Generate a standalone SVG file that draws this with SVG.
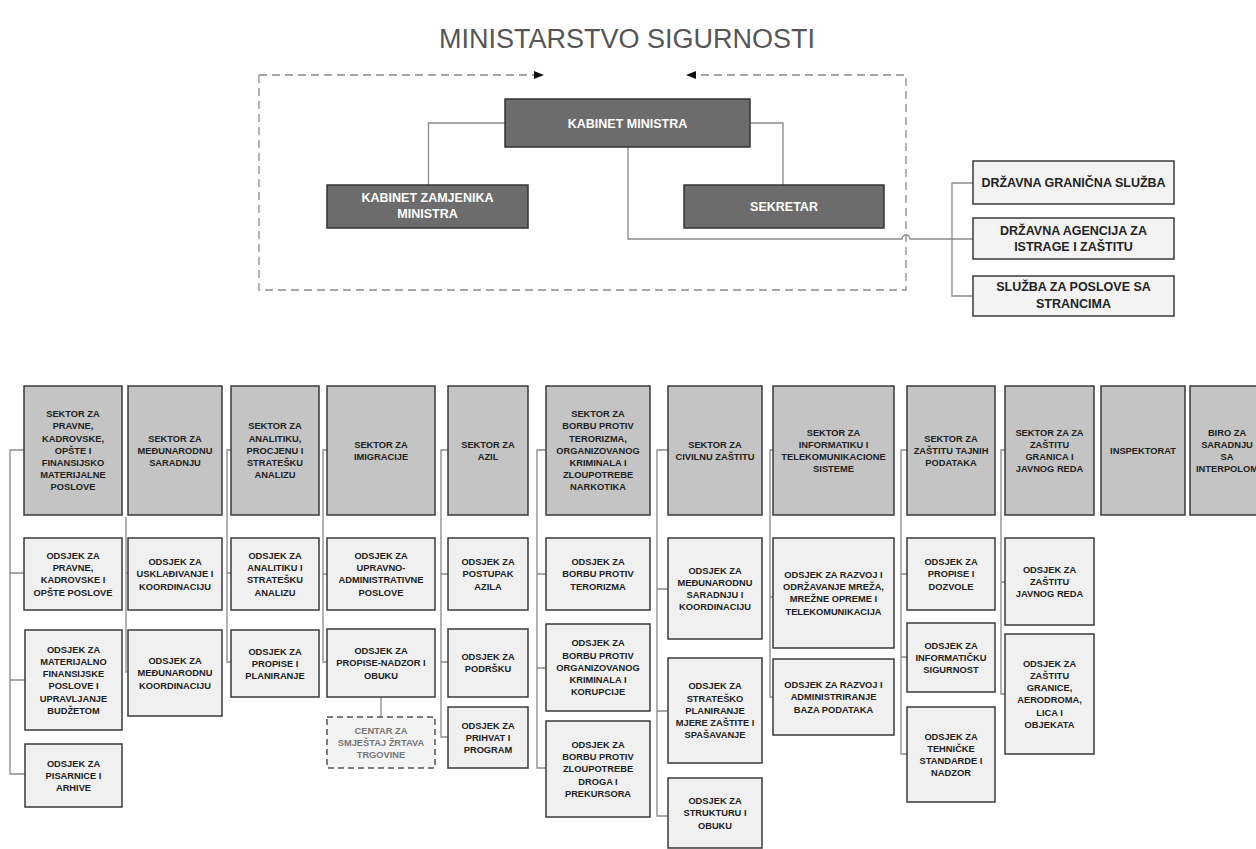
<svg xmlns="http://www.w3.org/2000/svg" width="1256" height="849" viewBox="0 0 1256 849">
<style>
.sec{fill:#c4c4c4;stroke:#3a3a3a;stroke-width:1.5}
.ods{fill:#f0f0f0;stroke:#3a3a3a;stroke-width:1.5}
.dsh{fill:#f3f3f3;stroke:#555;stroke-width:1.5;stroke-dasharray:6 4}
.dk{fill:#6c6c6c;stroke:#333;stroke-width:1.5}
.rb{fill:#f3f3f3;stroke:#3a3a3a;stroke-width:1.5}
.t{font-family:"Liberation Sans",Arial,sans-serif;font-weight:bold;font-size:9.3px;fill:#222;text-anchor:middle}
.tg{font-family:"Liberation Sans",Arial,sans-serif;font-weight:bold;font-size:9.3px;fill:#777;text-anchor:middle}
.tw{font-family:"Liberation Sans",Arial,sans-serif;font-weight:bold;font-size:12.5px;fill:#fff;text-anchor:middle}
.tr{font-family:"Liberation Sans",Arial,sans-serif;font-weight:bold;font-size:12.5px;fill:#222;text-anchor:middle}
.ln{fill:none;stroke:#8a8a8a;stroke-width:1.3}
.dl{fill:none;stroke:#8a8a8a;stroke-width:1.3;stroke-dasharray:8 5}
</style>
<defs>
<marker id="ah" viewBox="0 0 10 8" refX="10" refY="4" markerWidth="10" markerHeight="8" markerUnits="userSpaceOnUse" orient="auto">
<path d="M0,0 L10,4 L0,8 Z" fill="#111"/>
</marker>
</defs>
<rect width="1256" height="849" fill="#fff"/>
<text x="627" y="48" style="font-family:'Liberation Sans',Arial,sans-serif;font-size:27px;fill:#555;text-anchor:middle">MINISTARSTVO SIGURNOSTI</text>

<g id="connectors">
<path class="dl" d="M259,75 H544" marker-end="url(#ah)"/>
<path class="dl" d="M259,75 V290 H906 V75 H686" marker-end="url(#ah)"/>
<path class="ln" d="M505,123 H428.5 V185"/>
<path class="ln" d="M750,123 H783 V185"/>
<path class="ln" d="M628,147 V239 H902 A4,4 0 0 1 910,239 H952"/>
<path class="ln" d="M973,183 H952 V296 H973 M952,239 H973"/>
<!-- col1 -->
<path class="ln" d="M24,450 H10 V774 H25 M10,573 H24 M10,680 H25"/>
<!-- col2 -->
<path class="ln" d="M126,517 V672 H128 M126,573 H128"/>
<!-- col3 -->
<path class="ln" d="M231,450 H227 V662 H231 M227,573 H231"/>
<!-- col4 -->
<path class="ln" d="M327,450 H323 V662 H327 M323,574 H327 M381,697 V717"/>
<!-- col5 -->
<path class="ln" d="M448,450 H441 V737 H448 M441,574 H448 M441,662 H448"/>
<!-- col6 -->
<path class="ln" d="M546,450 H537 V768 H546 M537,574 H546 M537,668 H546"/>
<!-- col7 -->
<path class="ln" d="M668,450 H657 V816 H668 M657,589 H668 M657,711 H668"/>
<!-- col8 -->
<path class="ln" d="M773,450 H770 V697 H773 M770,597 H773"/>
<!-- col9 -->
<path class="ln" d="M907,450 H901 V754 H907 M901,574 H907 M901,657 H907"/>
<!-- col10 -->
<path class="ln" d="M1005,450 H1001 V694 H1005 M1001,582 H1005"/>
</g>

<g id="kabinet-ministra"><rect class="dk" x="505" y="99" width="245" height="48"/><text class="tw" x="627.5" y="127.5">KABINET MINISTRA</text></g>
<g id="kabinet-zamjenika"><rect class="dk" x="327" y="185" width="201" height="43"/><text class="tw" x="427.5" y="201.5"><tspan x="427.5">KABINET ZAMJENIKA</tspan><tspan x="427.5" dy="16.5">MINISTRA</tspan></text></g>
<g id="sekretar"><rect class="dk" x="684" y="185" width="200" height="43"/><text class="tw" x="784" y="211">SEKRETAR</text></g>

<g id="granicna"><rect class="rb" x="973" y="161" width="201" height="43"/><text class="tr" x="1073.5" y="186.8">DRŽAVNA GRANIČNA SLUŽBA</text></g>
<g id="sipa"><rect class="rb" x="973" y="218" width="201" height="41"/><text class="tr" x="1073.5" y="234.5"><tspan x="1073.5">DRŽAVNA AGENCIJA ZA</tspan><tspan x="1073.5" dy="16.5">ISTRAGE I ZAŠTITU</tspan></text></g>
<g id="stranci"><rect class="rb" x="973" y="276" width="201" height="40"/><text class="tr" x="1073.5" y="291"><tspan x="1073.5">SLUŽBA ZA POSLOVE SA</tspan><tspan x="1073.5" dy="16.5">STRANCIMA</tspan></text></g>

<!-- column 1 -->
<g id="s1"><rect class="sec" x="24" y="386" width="98" height="129"/><text class="t" y="417.2"><tspan x="73">SEKTOR ZA</tspan><tspan x="73" dy="12.2">PRAVNE,</tspan><tspan x="73" dy="12.2">KADROVSKE,</tspan><tspan x="73" dy="12.2">OPŠTE I</tspan><tspan x="73" dy="12.2">FINANSIJSKO</tspan><tspan x="73" dy="12.2">MATERIJALNE</tspan><tspan x="73" dy="12.2">POSLOVE</tspan></text></g>
<g id="s1o1"><rect class="ods" x="24" y="538" width="98" height="72"/><text class="t" y="559"><tspan x="73">ODSJEK ZA</tspan><tspan x="73" dy="12.2">PRAVNE,</tspan><tspan x="73" dy="12.2">KADROVSKE I</tspan><tspan x="73" dy="12.2">OPŠTE POSLOVE</tspan></text></g>
<g id="s1o2"><rect class="ods" x="25" y="630" width="97" height="100"/><text class="t" y="652.8"><tspan x="73.5">ODSJEK ZA</tspan><tspan x="73.5" dy="12.2">MATERIJALNO</tspan><tspan x="73.5" dy="12.2">FINANSIJSKE</tspan><tspan x="73.5" dy="12.2">POSLOVE I</tspan><tspan x="73.5" dy="12.2">UPRAVLJANJE</tspan><tspan x="73.5" dy="12.2">BUDŽETOM</tspan></text></g>
<g id="s1o3"><rect class="ods" x="25" y="744" width="97" height="63"/><text class="t" y="766.6"><tspan x="73.5">ODSJEK ZA</tspan><tspan x="73.5" dy="12.2">PISARNICE I</tspan><tspan x="73.5" dy="12.2">ARHIVE</tspan></text></g>

<!-- column 2 -->
<g id="s2"><rect class="sec" x="128" y="386" width="94" height="129"/><text class="t" y="441.6"><tspan x="175">SEKTOR ZA</tspan><tspan x="175" dy="12.2">MEĐUNARODNU</tspan><tspan x="175" dy="12.2">SARADNJU</tspan></text></g>
<g id="s2o1"><rect class="ods" x="128" y="538" width="94" height="72"/><text class="t" y="565.1"><tspan x="175">ODSJEK ZA</tspan><tspan x="175" dy="12.2">USKLAĐIVANJE I</tspan><tspan x="175" dy="12.2">KOORDINACIJU</tspan></text></g>
<g id="s2o2"><rect class="ods" x="128" y="630" width="94" height="86"/><text class="t" y="664.1"><tspan x="175">ODSJEK ZA</tspan><tspan x="175" dy="12.2">MEĐUNARODNU</tspan><tspan x="175" dy="12.2">KOORDINACIJU</tspan></text></g>

<!-- column 3 -->
<g id="s3"><rect class="sec" x="231" y="386" width="88" height="129"/><text class="t" y="429.4"><tspan x="275">SEKTOR ZA</tspan><tspan x="275" dy="12.2">ANALITIKU,</tspan><tspan x="275" dy="12.2">PROCJENU I</tspan><tspan x="275" dy="12.2">STRATEŠKU</tspan><tspan x="275" dy="12.2">ANALIZU</tspan></text></g>
<g id="s3o1"><rect class="ods" x="231" y="538" width="88" height="72"/><text class="t" y="559"><tspan x="275">ODSJEK ZA</tspan><tspan x="275" dy="12.2">ANALITIKU I</tspan><tspan x="275" dy="12.2">STRATEŠKU</tspan><tspan x="275" dy="12.2">ANALIZU</tspan></text></g>
<g id="s3o2"><rect class="ods" x="231" y="630" width="88" height="67"/><text class="t" y="654.6"><tspan x="275">ODSJEK ZA</tspan><tspan x="275" dy="12.2">PROPISE I</tspan><tspan x="275" dy="12.2">PLANIRANJE</tspan></text></g>

<!-- column 4 -->
<g id="s4"><rect class="sec" x="327" y="386" width="108" height="129"/><text class="t" y="447.7"><tspan x="381">SEKTOR ZA</tspan><tspan x="381" dy="12.2">IMIGRACIJE</tspan></text></g>
<g id="s4o1"><rect class="ods" x="327" y="538" width="108" height="72"/><text class="t" y="559"><tspan x="381">ODSJEK ZA</tspan><tspan x="381" dy="12.2">UPRAVNO-</tspan><tspan x="381" dy="12.2">ADMINISTRATIVNE</tspan><tspan x="381" dy="12.2">POSLOVE</tspan></text></g>
<g id="s4o2"><rect class="ods" x="327" y="629" width="108" height="68"/><text class="t" y="654.1"><tspan x="381">ODSJEK ZA</tspan><tspan x="381" dy="12.2">PROPISE-NADZOR I</tspan><tspan x="381" dy="12.2">OBUKU</tspan></text></g>
<g id="s4c"><rect class="dsh" x="327" y="717" width="108" height="51"/><text class="tg" y="733.6"><tspan x="381">CENTAR ZA</tspan><tspan x="381" dy="12.2">SMJEŠTAJ ŽRTAVA</tspan><tspan x="381" dy="12.2">TRGOVINE</tspan></text></g>

<!-- column 5 -->
<g id="s5"><rect class="sec" x="448" y="386" width="80" height="129"/><text class="t" y="447.7"><tspan x="488">SEKTOR ZA</tspan><tspan x="488" dy="12.2">AZIL</tspan></text></g>
<g id="s5o1"><rect class="ods" x="448" y="538" width="80" height="72"/><text class="t" y="565.1"><tspan x="488">ODSJEK ZA</tspan><tspan x="488" dy="12.2">POSTUPAK</tspan><tspan x="488" dy="12.2">AZILA</tspan></text></g>
<g id="s5o2"><rect class="ods" x="448" y="629" width="80" height="68"/><text class="t" y="660.2"><tspan x="488">ODSJEK ZA</tspan><tspan x="488" dy="12.2">PODRŠKU</tspan></text></g>
<g id="s5o3"><rect class="ods" x="448" y="707" width="80" height="61"/><text class="t" y="728.6"><tspan x="488">ODSJEK ZA</tspan><tspan x="488" dy="12.2">PRIHVAT I</tspan><tspan x="488" dy="12.2">PROGRAM</tspan></text></g>

<!-- column 6 -->
<g id="s6"><rect class="sec" x="546" y="386" width="104" height="129"/><text class="t" y="417.2"><tspan x="598">SEKTOR ZA</tspan><tspan x="598" dy="12.2">BORBU PROTIV</tspan><tspan x="598" dy="12.2">TERORIZMA,</tspan><tspan x="598" dy="12.2">ORGANIZOVANOG</tspan><tspan x="598" dy="12.2">KRIMINALA I</tspan><tspan x="598" dy="12.2">ZLOUPOTREBE</tspan><tspan x="598" dy="12.2">NARKOTIKA</tspan></text></g>
<g id="s6o1"><rect class="ods" x="546" y="538" width="104" height="72"/><text class="t" y="565.1"><tspan x="598">ODSJEK ZA</tspan><tspan x="598" dy="12.2">BORBU PROTIV</tspan><tspan x="598" dy="12.2">TERORIZMA</tspan></text></g>
<g id="s6o2"><rect class="ods" x="546" y="624" width="104" height="87"/><text class="t" y="646.4"><tspan x="598">ODSJEK ZA</tspan><tspan x="598" dy="12.2">BORBU PROTIV</tspan><tspan x="598" dy="12.2">ORGANIZOVANOG</tspan><tspan x="598" dy="12.2">KRIMINALA I</tspan><tspan x="598" dy="12.2">KORUPCIJE</tspan></text></g>
<g id="s6o3"><rect class="ods" x="546" y="721" width="104" height="96"/><text class="t" y="747.9"><tspan x="598">ODSJEK ZA</tspan><tspan x="598" dy="12.2">BORBU PROTIV</tspan><tspan x="598" dy="12.2">ZLOUPOTREBE</tspan><tspan x="598" dy="12.2">DROGA I</tspan><tspan x="598" dy="12.2">PREKURSORA</tspan></text></g>

<!-- column 7 -->
<g id="s7"><rect class="sec" x="668" y="386" width="94" height="129"/><text class="t" y="447.7"><tspan x="715">SEKTOR ZA</tspan><tspan x="715" dy="12.2">CIVILNU ZAŠTITU</tspan></text></g>
<g id="s7o1"><rect class="ods" x="668" y="538" width="94" height="101"/><text class="t" y="573.5"><tspan x="715">ODSJEK ZA</tspan><tspan x="715" dy="12.2">MEĐUNARODNU</tspan><tspan x="715" dy="12.2">SARADNJU I</tspan><tspan x="715" dy="12.2">KOORDINACIJU</tspan></text></g>
<g id="s7o2"><rect class="ods" x="668" y="658" width="94" height="105"/><text class="t" y="689.4"><tspan x="715">ODSJEK ZA</tspan><tspan x="715" dy="12.2">STRATEŠKO</tspan><tspan x="715" dy="12.2">PLANIRANJE</tspan><tspan x="715" dy="12.2">MJERE ZAŠTITE I</tspan><tspan x="715" dy="12.2">SPAŠAVANJE</tspan></text></g>
<g id="s7o3"><rect class="ods" x="668" y="778" width="94" height="70"/><text class="t" y="804.1"><tspan x="715">ODSJEK ZA</tspan><tspan x="715" dy="12.2">STRUKTURU I</tspan><tspan x="715" dy="12.2">OBUKU</tspan></text></g>

<!-- column 8 -->
<g id="s8"><rect class="sec" x="773" y="386" width="121" height="129"/><text class="t" y="435.5"><tspan x="833.5">SEKTOR ZA</tspan><tspan x="833.5" dy="12.2">INFORMATIKU I</tspan><tspan x="833.5" dy="12.2">TELEKOMUNIKACIONE</tspan><tspan x="833.5" dy="12.2">SISTEME</tspan></text></g>
<g id="s8o1"><rect class="ods" x="773" y="538" width="121" height="110"/><text class="t" y="578"><tspan x="833.5">ODSJEK ZA RAZVOJ I</tspan><tspan x="833.5" dy="12.2">ODRŽAVANJE MREŽA,</tspan><tspan x="833.5" dy="12.2">MREŽNE OPREME I</tspan><tspan x="833.5" dy="12.2">TELEKOMUNIKACIJA</tspan></text></g>
<g id="s8o2"><rect class="ods" x="773" y="659" width="121" height="76"/><text class="t" y="688.1"><tspan x="833.5">ODSJEK ZA RAZVOJ I</tspan><tspan x="833.5" dy="12.2">ADMINISTRIRANJE</tspan><tspan x="833.5" dy="12.2">BAZA PODATAKA</tspan></text></g>

<!-- column 9 -->
<g id="s9"><rect class="sec" x="907" y="386" width="88" height="129"/><text class="t" y="441.6"><tspan x="951">SEKTOR ZA</tspan><tspan x="951" dy="12.2">ZAŠTITU TAJNIH</tspan><tspan x="951" dy="12.2">PODATAKA</tspan></text></g>
<g id="s9o1"><rect class="ods" x="907" y="538" width="88" height="72"/><text class="t" y="565.1"><tspan x="951">ODSJEK ZA</tspan><tspan x="951" dy="12.2">PROPISE I</tspan><tspan x="951" dy="12.2">DOZVOLE</tspan></text></g>
<g id="s9o2"><rect class="ods" x="907" y="623" width="88" height="69"/><text class="t" y="648.6"><tspan x="951">ODSJEK ZA</tspan><tspan x="951" dy="12.2">INFORMATIČKU</tspan><tspan x="951" dy="12.2">SIGURNOST</tspan></text></g>
<g id="s9o3"><rect class="ods" x="907" y="707" width="88" height="95"/><text class="t" y="739.5"><tspan x="951">ODSJEK ZA</tspan><tspan x="951" dy="12.2">TEHNIČKE</tspan><tspan x="951" dy="12.2">STANDARDE I</tspan><tspan x="951" dy="12.2">NADZOR</tspan></text></g>

<!-- column 10 -->
<g id="s10"><rect class="sec" x="1005" y="386" width="89" height="129"/><text class="t" y="435.5"><tspan x="1049.5">SEKTOR ZA ZA</tspan><tspan x="1049.5" dy="12.2">ZAŠTITU</tspan><tspan x="1049.5" dy="12.2">GRANICA I</tspan><tspan x="1049.5" dy="12.2">JAVNOG REDA</tspan></text></g>
<g id="s10o1"><rect class="ods" x="1005" y="538" width="89" height="87"/><text class="t" y="572.6"><tspan x="1049.5">ODSJEK ZA</tspan><tspan x="1049.5" dy="12.2">ZAŠTITU</tspan><tspan x="1049.5" dy="12.2">JAVNOG REDA</tspan></text></g>
<g id="s10o2"><rect class="ods" x="1005" y="634" width="89" height="120"/><text class="t" y="666.8"><tspan x="1049.5">ODSJEK ZA</tspan><tspan x="1049.5" dy="12.2">ZAŠTITU</tspan><tspan x="1049.5" dy="12.2">GRANICE,</tspan><tspan x="1049.5" dy="12.2">AERODROMA,</tspan><tspan x="1049.5" dy="12.2">LICA I</tspan><tspan x="1049.5" dy="12.2">OBJEKATA</tspan></text></g>

<!-- column 11, 12 -->
<g id="inspektorat"><rect class="sec" x="1101" y="386" width="84" height="129"/><text class="t" x="1143" y="453.8">INSPEKTORAT</text></g>
<g id="biro"><rect class="sec" x="1190" y="386" width="75" height="129"/><text class="t" y="435.5"><tspan x="1227">BIRO ZA</tspan><tspan x="1227" dy="12.2">SARADNJU</tspan><tspan x="1227" dy="12.2">SA</tspan><tspan x="1227" dy="12.2">INTERPOLOM</tspan></text></g>
</svg>
